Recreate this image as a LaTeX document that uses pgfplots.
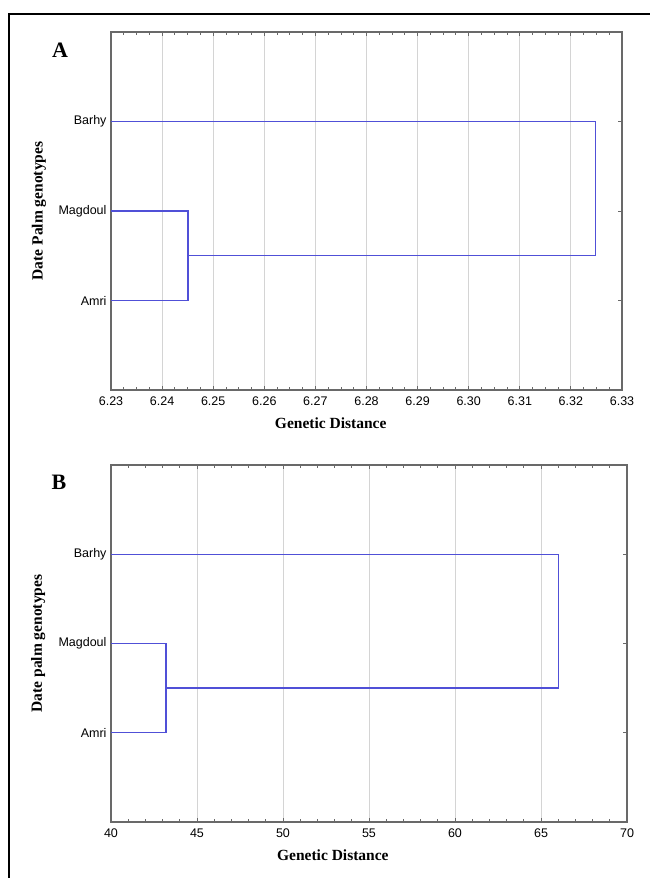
\documentclass[border=0pt]{standalone}
\usepackage{pgfplots}
\pgfplotsset{compat=1.18}
\usepackage{fontspec}
\setmainfont{Liberation Serif}
\newfontfamily\arial{Liberation Sans}
\definecolor{dendc}{RGB}{80,80,215}
\definecolor{gridc}{RGB}{212,212,212}
\definecolor{axc}{RGB}{105,105,105}
\pgfplotsset{
  dendro/.style={
    scale only axis, anchor=south west,
    ymin=0, ymax=4, ytick={1,2,3}, yticklabels={Amri,Magdoul,Barhy},
    ytick pos=right, yticklabel pos=left,
    xtick pos=both, xticklabel pos=bottom,
    tick align=inside,
    major tick length=4pt, minor tick length=3pt,
    every tick/.style={axc, line width=0.9pt},
    axis line style={axc, line width=1.3pt},
    xmajorgrids, major grid style={gridc, line width=0.9pt},
    /pgf/number format/assume math mode=true,
    tick label style={font=\arial\fontsize{12.5}{14}\selectfont, black},
    xticklabel style={yshift=-3pt},
    yticklabel style={xshift=-1pt},
    label style={font=\bfseries\fontsize{15.5}{18}\selectfont},
    xlabel={Genetic Distance},
    xlabel style={at={(axis description cs:0.43,-0.092)}, anchor=center},
    ylabel style={at={(axis description cs:-0.141,0.5)}, anchor=center, rotate=0},
  },
  dline/.style={draw=dendc, color=dendc, line width=1.4pt, mark=none, line join=miter}
}
\begin{document}
\begin{tikzpicture}
\useasboundingbox (0,0) rectangle (649pt,-878pt);
\fill[white] (0,0) rectangle (649pt,-878pt);
\draw[line width=2pt, black] (9pt,-890pt) -- (9pt,-14pt) -- (660pt,-14pt);

\begin{axis}[dendro,
  at={(111pt,-390pt)}, width=511pt, height=358pt,
  xmin=6.23, xmax=6.33,
  xtick={6.23,6.24,6.25,6.26,6.27,6.28,6.29,6.30,6.31,6.32,6.33},
  minor x tick num=3,
  xticklabel style={/pgf/number format/.cd, fixed, fixed zerofill, precision=2},
  ylabel={Date Palm genotypes},
]
\addplot[dline] coordinates {(6.23,3) (6.3248,3) (6.3248,1.5) (6.2451,1.5)};
\addplot[dline] coordinates {(6.23,2) (6.2451,2) (6.2451,1) (6.23,1)};
\end{axis}

\begin{axis}[dendro,
  at={(111pt,-822pt)}, width=516pt, height=357pt,
  xmin=40, xmax=70,
  xtick={40,45,50,55,60,65,70},
  minor x tick num=4,
  ylabel={Date palm genotypes},
]
\addplot[dline] coordinates {(40,3) (66.0,3) (66.0,1.5) (43.2,1.5)};
\addplot[dline] coordinates {(40,2) (43.2,2) (43.2,1) (40,1)};
\end{axis}

\node[font=\bfseries\fontsize{22}{24}\selectfont] at (60pt,-50pt) {A};
\node[font=\bfseries\fontsize{22}{24}\selectfont] at (59pt,-482pt) {B};
\end{tikzpicture}
\end{document}
